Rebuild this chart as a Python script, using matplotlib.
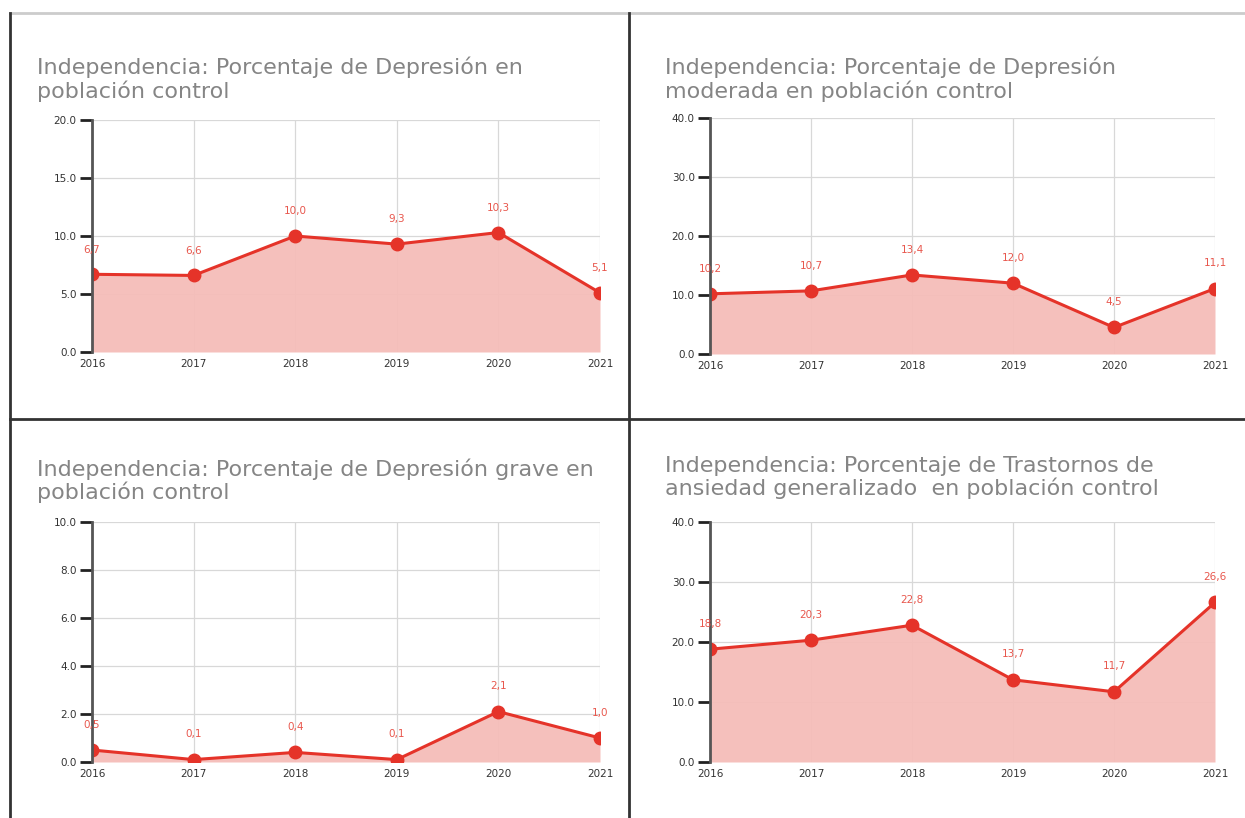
import matplotlib.pyplot as plt
from matplotlib.lines import Line2D

plt.rcParams['font.family'] = ['DejaVu Sans']

years = [2016, 2017, 2018, 2019, 2020, 2021]

titles = [
    "Independencia: Porcentaje de Depresión en\npoblación control",
    "Independencia: Porcentaje de Depresión\nmoderada en población control",
    "Independencia: Porcentaje de Depresión grave en\npoblación control",
    "Independencia: Porcentaje de Trastornos de\nansiedad generalizado  en población control",
]
dep_total = [6.7, 6.6, 10.0, 9.3, 10.3, 5.1]
dep_moderada = [10.2, 10.7, 13.4, 12.0, 4.5, 11.1]
dep_grave = [0.5, 0.1, 0.4, 0.1, 2.1, 1.0]
ansiedad = [18.8, 20.3, 22.8, 13.7, 11.7, 26.6]
series = [dep_total, dep_moderada, dep_grave, ansiedad]
ymax = [20, 40, 10, 40]
ystep = [5, 10, 2, 10]

W, H = 1245, 818
fig = plt.figure(figsize=(W / 100, H / 100), dpi=100)

# axes boxes in pixels: left, right, top, bottom
boxes = [(92, 600, 120, 352), (710, 1215, 118, 354),
         (92, 600, 522, 762), (710, 1215, 522, 762)]
title_pos = [(37, 57), (665, 57), (37, 458), (665, 456)]

red = '#e53329'
for i in range(4):
    l, r, t, b = boxes[i]
    ax = fig.add_axes([l / W, 1 - b / H, (r - l) / W, (b - t) / H])
    vals = series[i]
    ax.fill_between(years, vals, 0, color='#f5bdb9', alpha=0.95, lw=0)
    ax.plot(years, vals, color=red, lw=2.2, marker='o', ms=9)
    ax.set_xlim(2016, 2021)
    ax.set_ylim(0, ymax[i])
    ticks = [k * ystep[i] for k in range(ymax[i] // ystep[i] + 1)]
    ax.set_yticks(ticks)
    ax.set_yticklabels(['%.1f' % v for v in ticks], fontsize=7.5, color='#333333')
    ax.set_xticks(years)
    ax.set_xticklabels([str(y) for y in years], fontsize=7.5, color='#333333')
    ax.tick_params(axis='x', length=0, pad=5)
    ax.tick_params(axis='y', length=9, width=2, color='#222222', pad=2)
    ax.grid(True, color='#d8d8d8', lw=0.9)
    ax.set_axisbelow(True)
    for s in ['top', 'right', 'bottom']:
        ax.spines[s].set_visible(False)
    ax.spines['left'].set_color('#555555')
    ax.spines['left'].set_linewidth(2)
    for x, v in zip(years, vals):
        ax.text(x, v + ymax[i] * 0.085, ('%.1f' % v).replace('.', ','),
                ha='center', va='bottom', fontsize=7.5, color='#e8574d')
    tx, ty = title_pos[i]
    fig.text(tx / W, 1 - ty / H, titles[i], fontsize=16, color='#858585',
             ha='left', va='top', linespacing=1.1)

# panel borders
fig.add_artist(Line2D([10 / W, 1], [1 - 13 / H, 1 - 13 / H], color='#cccccc', lw=2))
fig.add_artist(Line2D([10 / W, 10 / W], [0, 1 - 13 / H], color='#333333', lw=2))
fig.add_artist(Line2D([629 / W, 629 / W], [0, 1 - 13 / H], color='#333333', lw=2))
fig.add_artist(Line2D([10 / W, 1], [1 - 419 / H, 1 - 419 / H], color='#333333', lw=2))

fig.savefig('out.png', dpi=100)
